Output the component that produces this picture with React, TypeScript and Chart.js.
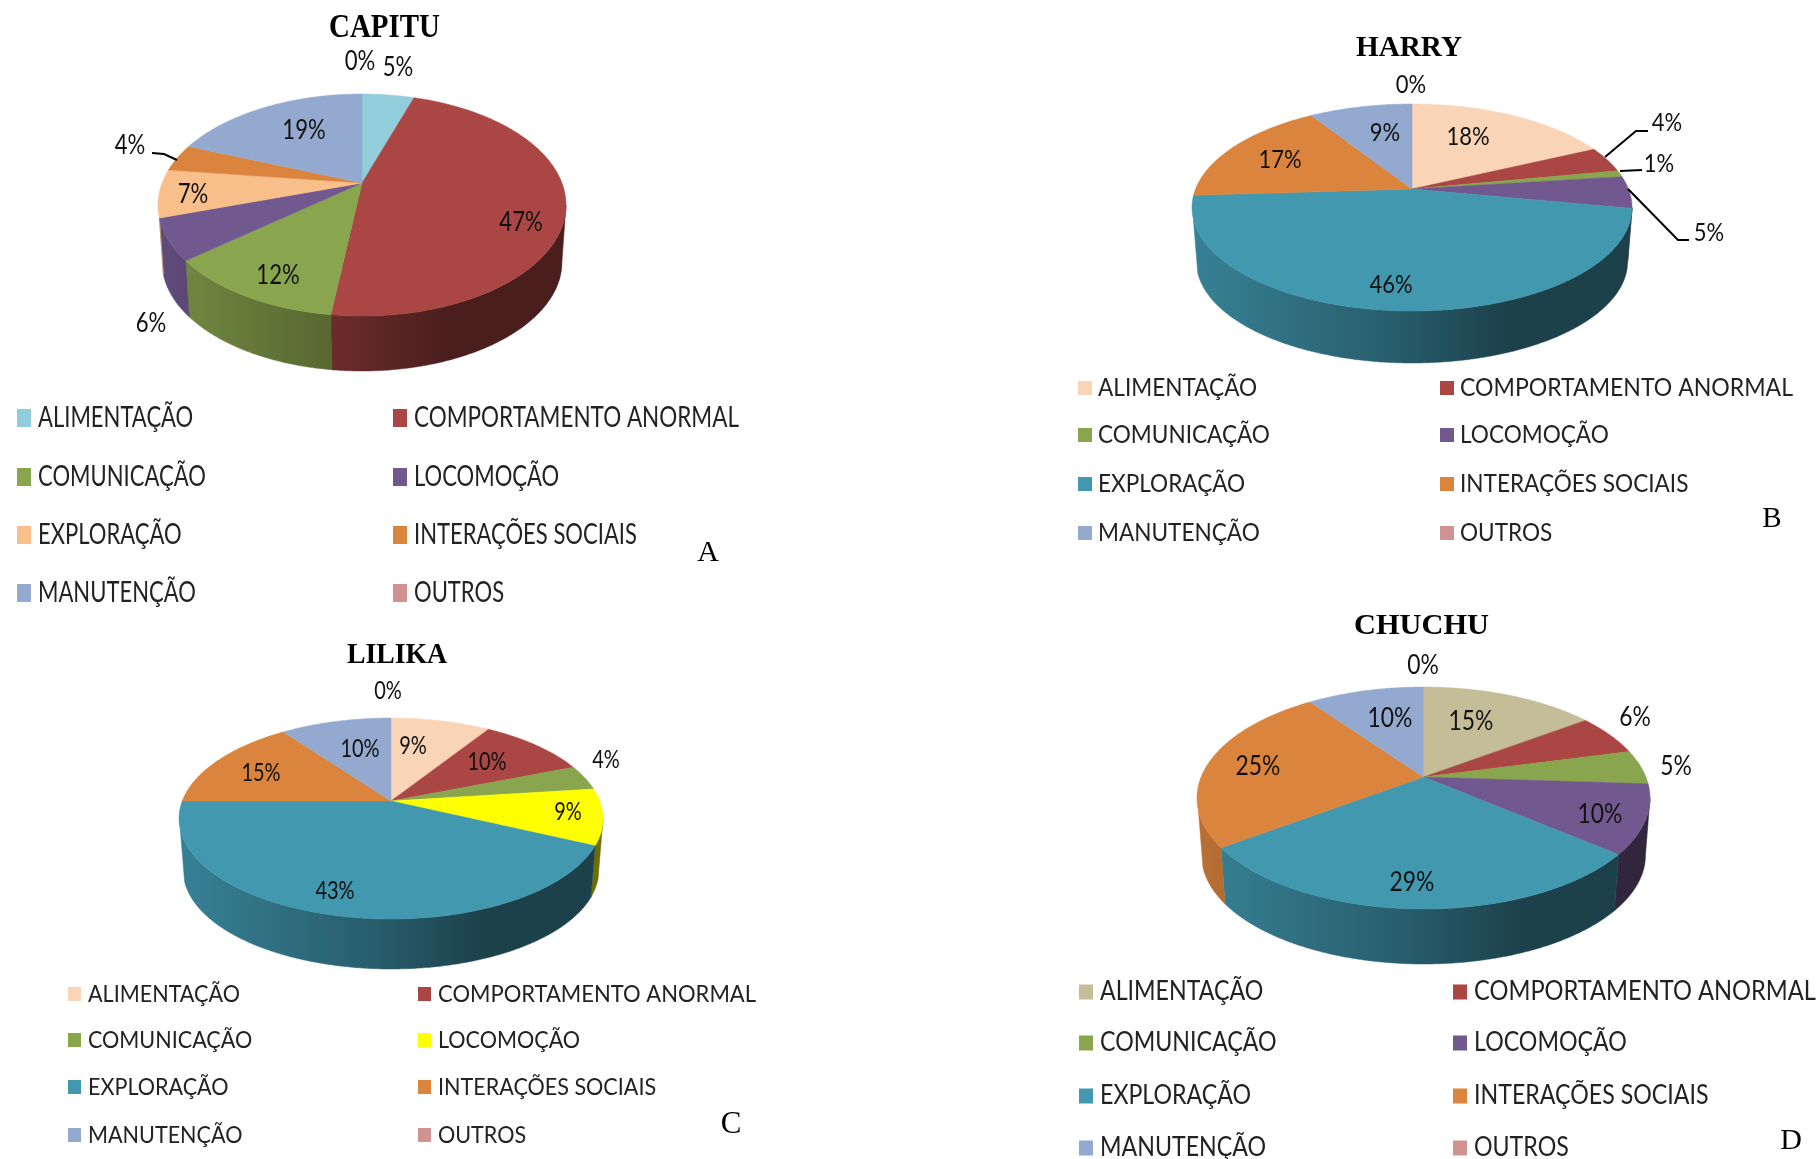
import React, { useEffect, useRef } from "react";
import { Chart, PieController, registerables } from "chart.js";

// Behaviour categories shared by the four panels
const categories = [
  "ALIMENTAÇÃO",
  "COMPORTAMENTO ANORMAL",
  "COMUNICAÇÃO",
  "LOCOMOÇÃO",
  "EXPLORAÇÃO",
  "INTERAÇÕES SOCIAIS",
  "MANUTENÇÃO",
  "OUTROS",
];

// Percent of time budget per animal
const capituValues = [5, 47, 12, 6, 7, 4, 19, 0];
const harryValues = [18, 4, 1, 5, 46, 17, 9, 0];
const lilikaValues = [9, 10, 4, 9, 43, 15, 10, 0];
const chuchuValues = [15, 6, 5, 10, 29, 25, 10, 0];

const capituColors = ["#92CDDC", "#AA4643", "#89A54E", "#71588F", "#F9BF8B", "#DB843D", "#93A9CF", "#D19392"];
const harryColors = ["#FAD4B6", "#AA4643", "#89A54E", "#71588F", "#4198AF", "#DB843D", "#93A9CF", "#D19392"];
const lilikaColors = ["#FAD4B6", "#AA4643", "#89A54E", "#FFFF00", "#4198AF", "#DB843D", "#93A9CF", "#D19392"];
const chuchuColors = ["#C4BD97", "#AA4643", "#89A54E", "#71588F", "#4198AF", "#DB843D", "#93A9CF", "#D19392"];

type Pt = [number, number];

interface Panel {
  title: string;
  tag: string;
  values: number[];
  colors: string[];
  frame: { x: number; y: number; w: number; h: number };
  disc: { left: number; right: number; top: number; bottom: number; apexY: number; depth: number };
  titleBox: { x0: number; x1: number; y: number; size: number };
  tagPos: { x: number; y: number; size: number };
  labelFont: number;
  labelStretch: number;
  labelPos: Pt[];
  leaders: Pt[][];
  legend: {
    colA: number;
    colB: number;
    textGap: number;
    rows: number[];
    swatchW: number;
    swatchH: number;
    font: number;
    widest: number;
  };
}

const panels: Panel[] = [
  {
    title: "CAPITU",
    tag: "A",
    values: capituValues,
    colors: capituColors,
    frame: { x: 0, y: 0, w: 900, h: 625 },
    disc: { left: 158, right: 566, top: 94, bottom: 316, apexY: 183, depth: 55 },
    titleBox: { x0: 329, x1: 440, y: 28, size: 33 },
    tagPos: { x: 708, y: 553, size: 30 },
    labelFont: 27,
    labelStretch: 0.82,
    labelPos: [[398, 67], [521, 222], [278, 275], [151, 323], [193, 194], [130, 145], [304, 130], [360, 61]],
    leaders: [[[152, 153], [164, 154], [177, 160]]],
    legend: { colA: 17, colB: 393, textGap: 21, rows: [418, 477, 535, 593], swatchW: 14, swatchH: 18, font: 28, widest: 325 },
  },
  {
    title: "HARRY",
    tag: "B",
    values: harryValues,
    colors: harryColors,
    frame: { x: 900, y: 0, w: 920, h: 585 },
    disc: { left: 1192, right: 1632, top: 104, bottom: 311, apexY: 189, depth: 52 },
    titleBox: { x0: 1356, x1: 1462, y: 49, size: 29 },
    tagPos: { x: 1772, y: 519, size: 29 },
    labelFont: 25,
    labelStretch: 0.88,
    labelPos: [[1468, 137], [1667, 123], [1659, 164], [1709, 233], [1391, 285], [1280, 160], [1385, 133], [1411, 85]],
    leaders: [
      [[1648, 131], [1636, 131], [1605, 157]],
      [[1642, 170], [1620, 171]],
      [[1689, 240], [1678, 240], [1628, 189]],
    ],
    legend: { colA: 1078, colB: 1440, textGap: 20, rows: [388, 435, 484, 533], swatchW: 14, swatchH: 14, font: 25, widest: 333 },
  },
  {
    title: "LILIKA",
    tag: "C",
    values: lilikaValues,
    colors: lilikaColors,
    frame: { x: 0, y: 630, w: 900, h: 529 },
    disc: { left: 179, right: 603, top: 718, bottom: 919, apexY: 801, depth: 50 },
    titleBox: { x0: 347, x1: 447, y: 656, size: 29 },
    tagPos: { x: 731, y: 1125, size: 31 },
    labelFont: 25,
    labelStretch: 0.8,
    labelPos: [[413, 746], [487, 762], [606, 760], [568, 812], [335, 891], [261, 773], [360, 749], [388, 691]],
    leaders: [],
    legend: { colA: 68, colB: 418, textGap: 20, rows: [994, 1040, 1087, 1135], swatchW: 13, swatchH: 14, font: 24, widest: 318 },
  },
  {
    title: "CHUCHU",
    tag: "D",
    values: chuchuValues,
    colors: chuchuColors,
    frame: { x: 900, y: 590, w: 920, h: 569 },
    disc: { left: 1197, right: 1650, top: 687, bottom: 909, apexY: 777, depth: 55 },
    titleBox: { x0: 1354, x1: 1489, y: 626, size: 30 },
    tagPos: { x: 1791, y: 1141, size: 30 },
    labelFont: 26,
    labelStretch: 0.88,
    labelPos: [[1471, 722], [1635, 718], [1676, 767], [1600, 815], [1412, 883], [1258, 767], [1390, 719], [1423, 666]],
    leaders: [],
    legend: { colA: 1079, colB: 1453, textGap: 21, rows: [992, 1043, 1096, 1148], swatchW: 14, swatchH: 15, font: 26, widest: 342 },
  },
];

// Side-wall shading runs left to right across the whole disc
const wallShade: [number, number][] = [
  [0, 0.85],
  [0.45, 0.62],
  [0.72, 0.43],
  [1, 0.43],
];

// The wall fades out a little before the left silhouette of the disc
const leftWallMargin = 0.11;

function shade(hex: string, f: number) {
  const n = parseInt(hex.slice(1), 16);
  const r = Math.round(((n >> 16) & 255) * f);
  const g = Math.round(((n >> 8) & 255) * f);
  const b = Math.round((n & 255) * f);
  return `rgb(${r},${g},${b})`;
}

// Pie controller that paints its arcs as a tilted disc seen in perspective.
// Slice angles still come from the library; the disc fills the chart area.
class TiltedPieController extends PieController {
  static id = "tiltedPie";

  draw() {
    const chart = this.chart as any;
    const ctx: CanvasRenderingContext2D = chart.ctx;
    const area = chart.chartArea;
    const arcs: any[] = this._cachedMeta.data as any[];
    const opts = chart.options.plugins.tiltedDisc;
    const colors: string[] = chart.data.datasets[0].backgroundColor;

    const cx = (area.left + area.right) / 2;
    const cy = (area.top + area.bottom) / 2;
    const rx = (area.right - area.left) / 2;
    const ry = (area.bottom - area.top) / 2;
    const tilt = (opts.apexY - cy) / ry;
    const depth: number = opts.depth;
    const squeeze = 0.98;

    // Projective map of the unit circle that carries its centre to the apex
    const unit = (theta: number): Pt => {
      const u = Math.sin(theta);
      const v = -Math.cos(theta);
      const w = 1 + tilt * v;
      return [(u * Math.sqrt(1 - tilt * tilt)) / w, (v + tilt) / w];
    };
    const onTop = (theta: number): Pt => {
      const [x, y] = unit(theta);
      return [cx + rx * x, cy + ry * y];
    };
    const onBase = (theta: number): Pt => {
      const [x, y] = unit(theta);
      return [cx + rx * squeeze * x, cy + depth + ry * (1 - squeeze) + ry * squeeze * y];
    };

    const edgeFrom = Math.acos(tilt);
    const edgeTo = 2 * Math.PI - edgeFrom - leftWallMargin;

    ctx.save();

    arcs.forEach((arc, i) => {
      const a0 = arc.startAngle + Math.PI / 2;
      const a1 = arc.endAngle + Math.PI / 2;
      const from = Math.max(a0, edgeFrom);
      const to = Math.min(a1, edgeTo);
      if (to <= from) return;
      const steps = Math.max(2, Math.ceil((to - from) / 0.01));
      const upper: Pt[] = [];
      const lower: Pt[] = [];
      for (let s = 0; s <= steps; s++) {
        const t = from + ((to - from) * s) / steps;
        upper.push(onTop(t));
        lower.push(onBase(t));
      }
      const grad = ctx.createLinearGradient(area.left, 0, area.right, 0);
      wallShade.forEach(([p, f]) => grad.addColorStop(p, shade(colors[i], f)));
      ctx.beginPath();
      upper.forEach(([x, y], k) => (k ? ctx.lineTo(x, y) : ctx.moveTo(x, y)));
      lower.reverse().forEach(([x, y]) => ctx.lineTo(x, y));
      ctx.closePath();
      ctx.fillStyle = grad;
      ctx.strokeStyle = grad;
      ctx.lineWidth = 0.5;
      ctx.fill();
      ctx.stroke();
    });

    arcs.forEach((arc, i) => {
      const a0 = arc.startAngle + Math.PI / 2;
      const a1 = arc.endAngle + Math.PI / 2;
      if (a1 - a0 <= 0) return;
      const steps = Math.max(2, Math.ceil((a1 - a0) / 0.01));
      ctx.beginPath();
      ctx.moveTo(cx, opts.apexY);
      for (let s = 0; s <= steps; s++) {
        const [x, y] = onTop(a0 + ((a1 - a0) * s) / steps);
        ctx.lineTo(x, y);
      }
      ctx.closePath();
      ctx.fillStyle = colors[i];
      ctx.strokeStyle = colors[i];
      ctx.lineWidth = 0.5;
      ctx.fill();
      ctx.stroke();
    });

    ctx.restore();
  }
}

Chart.register(...registerables, TiltedPieController as any);

const SANS = "Lato, 'Noto Sans', sans-serif";
const SERIF = "'Liberation Serif', serif";

function stretchedText(
  ctx: CanvasRenderingContext2D,
  text: string,
  x: number,
  y: number,
  stretch: number,
  align: "left" | "center"
) {
  ctx.save();
  ctx.translate(x, y);
  ctx.scale(stretch, 1);
  ctx.textAlign = align;
  ctx.textBaseline = "middle";
  ctx.fillText(text, 0, 0);
  ctx.restore();
}

// Title, panel letter, percent labels, leader lines and the two-column legend
function panelTextPlugin(p: Panel) {
  return {
    id: "panelText",
    afterDraw(chart: any) {
      const ctx: CanvasRenderingContext2D = chart.ctx;
      const labels: string[] = chart.data.labels;
      const values: number[] = chart.data.datasets[0].data;
      const colors: string[] = chart.data.datasets[0].backgroundColor;
      ctx.save();
      ctx.translate(-p.frame.x, -p.frame.y);
      ctx.fillStyle = "#000";

      ctx.font = `bold ${p.titleBox.size}px ${SERIF}`;
      const tw = ctx.measureText(p.title).width;
      stretchedText(ctx, p.title, (p.titleBox.x0 + p.titleBox.x1) / 2, p.titleBox.y, (p.titleBox.x1 - p.titleBox.x0) / tw, "center");

      ctx.font = `${p.tagPos.size}px ${SERIF}`;
      stretchedText(ctx, p.tag, p.tagPos.x, p.tagPos.y, 1, "center");

      ctx.strokeStyle = "#000";
      ctx.lineWidth = 2;
      p.leaders.forEach((line) => {
        ctx.beginPath();
        line.forEach(([x, y], i) => (i ? ctx.lineTo(x, y) : ctx.moveTo(x, y)));
        ctx.stroke();
      });

      ctx.font = `${p.labelFont}px ${SANS}`;
      ctx.fillStyle = "#111";
      values.forEach((v, i) => {
        const [x, y] = p.labelPos[i];
        stretchedText(ctx, `${v}%`, x, y, p.labelStretch, "center");
      });

      const lg = p.legend;
      ctx.font = `${lg.font}px ${SANS}`;
      const stretch = lg.widest / ctx.measureText(labels[1]).width;
      labels.forEach((name, i) => {
        const x = i % 2 === 0 ? lg.colA : lg.colB;
        const y = lg.rows[Math.floor(i / 2)];
        ctx.fillStyle = colors[i];
        ctx.fillRect(x, y - lg.swatchH / 2, lg.swatchW, lg.swatchH);
        ctx.fillStyle = "#222";
        stretchedText(ctx, name, x + lg.textGap, y, i === 1 ? stretch : stretch * 0.98, "left");
      });
      ctx.restore();
    },
  };
}

function PiePanel({ panel }: { panel: Panel }) {
  const ref = useRef<HTMLCanvasElement>(null);
  useEffect(() => {
    const { frame, disc } = panel;
    const chart = new Chart(ref.current as HTMLCanvasElement, {
      type: "tiltedPie" as any,
      data: {
        labels: categories,
        datasets: [{ data: panel.values, backgroundColor: panel.colors, borderWidth: 0 }],
      },
      options: {
        responsive: false,
        animation: false,
        events: [],
        layout: {
          padding: {
            left: disc.left - frame.x,
            right: frame.x + frame.w - disc.right,
            top: disc.top - frame.y,
            bottom: frame.y + frame.h - disc.bottom,
          },
        },
        plugins: {
          legend: { display: false },
          title: { display: false },
          tooltip: { enabled: false },
          tiltedDisc: { apexY: disc.apexY - frame.y, depth: disc.depth },
        },
      } as any,
      plugins: [panelTextPlugin(panel)],
    });
    return () => chart.destroy();
  }, [panel]);
  const { frame } = panel;
  return (
    <canvas
      ref={ref}
      width={frame.w}
      height={frame.h}
      style={{ position: "absolute", left: frame.x, top: frame.y }}
    />
  );
}

export default function App() {
  return (
    <div style={{ position: "fixed", left: 0, top: 0, width: 1820, height: 1159, background: "#fff", overflow: "hidden" }}>
      {panels.map((p) => (
        <PiePanel key={p.title} panel={p} />
      ))}
    </div>
  );
}
